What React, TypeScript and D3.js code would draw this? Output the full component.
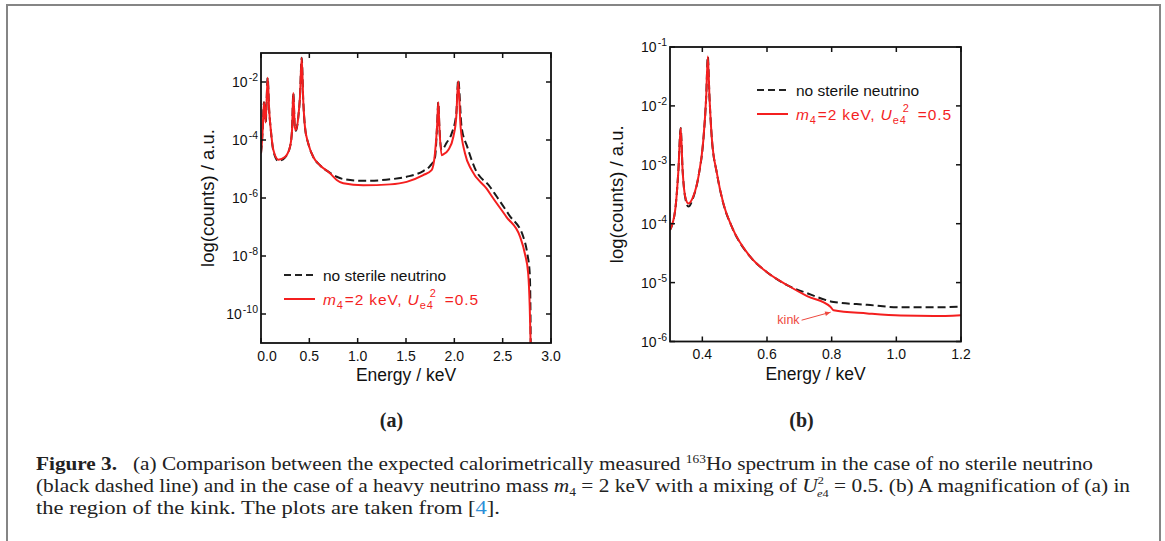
import React from 'react';
import * as d3 from 'd3';

type Pt = [number, number];

// (a) full 163Ho spectrum: [energy keV, counts a.u.]
const aNoSterile: Pt[] = [
  [0.0, 3.5e-5], [0.015, 1.6e-4], [0.031, 2.0e-3], [0.048, 4.0e-4], [0.069, 1.4e-2],
  [0.085, 1.0e-3], [0.1, 2.5e-4], [0.128, 4.2e-5], [0.179, 1.9e-5], [0.248, 2.5e-5],
  [0.3, 5.8e-5], [0.321, 2.2e-4], [0.334, 4.2e-3], [0.35, 2.8e-4], [0.362, 2.1e-4],
  [0.386, 6.3e-4], [0.403, 3.0e-3], [0.421, 6.9e-2], [0.437, 2.3e-3], [0.455, 2.8e-4],
  [0.489, 7.6e-5], [0.541, 2.6e-5], [0.61, 1.35e-5], [0.714, 7.4e-6], [0.783, 5.4e-6],
  [0.851, 4.5e-6], [1.058, 3.9e-6], [1.334, 4.4e-6], [1.507, 5.4e-6], [1.678, 8.5e-6],
  [1.748, 1.26e-5], [1.8, 2.5e-5], [1.822, 3.2e-4], [1.834, 2.0e-3], [1.846, 2.5e-4],
  [1.868, 4.5e-5], [1.92, 8.0e-5], [1.972, 1.66e-4], [2.02, 8.0e-4], [2.04, 1.2e-2],
  [2.075, 2.8e-4], [2.134, 5.8e-5], [2.213, 1.05e-5], [2.368, 2.45e-6], [2.44, 1.1e-6],
  [2.57, 2.5e-7], [2.713, 4.6e-8], [2.755, 1.2e-8], [2.78, 2.5e-9], [2.787, 1.8e-10],
  [2.79, 1e-11],
];

const aSterile: Pt[] = [
  [0.0, 3.5e-5], [0.015, 1.6e-4], [0.031, 2.0e-3], [0.048, 4.0e-4], [0.069, 1.4e-2],
  [0.085, 1.0e-3], [0.1, 2.5e-4], [0.128, 4.5e-5], [0.179, 2.1e-5], [0.248, 2.6e-5],
  [0.3, 5.8e-5], [0.321, 2.2e-4], [0.334, 4.2e-3], [0.35, 2.8e-4], [0.362, 2.2e-4],
  [0.386, 6.3e-4], [0.403, 3.0e-3], [0.421, 6.9e-2], [0.437, 2.3e-3], [0.455, 2.8e-4],
  [0.489, 7.6e-5], [0.541, 2.6e-5], [0.61, 1.35e-5], [0.714, 7.1e-6], [0.783, 4.2e-6],
  [0.851, 3.2e-6], [1.058, 2.75e-6], [1.334, 2.95e-6], [1.507, 3.6e-6], [1.678, 6.2e-6],
  [1.765, 9.1e-6], [1.8, 3.5e-5], [1.822, 3.2e-4], [1.834, 2.0e-3], [1.846, 2.5e-4],
  [1.868, 3.0e-5], [1.886, 3.2e-5], [1.937, 4.5e-5], [1.99, 1.3e-4], [2.02, 6.3e-4],
  [2.04, 1.07e-2], [2.065, 2.8e-4], [2.11, 3.5e-5], [2.179, 9.1e-6], [2.334, 2.1e-6],
  [2.4, 1.0e-6], [2.54, 2.2e-7], [2.68, 4.6e-8], [2.73, 1.2e-8], [2.764, 2.5e-9],
  [2.78, 1.8e-10], [2.789, 1e-11],
];

// (b) magnification around the N lines and the kink
const bNoSterile: Pt[] = [
  [0.3, 7.8e-5], [0.316, 1.7e-4], [0.326, 8.1e-4], [0.333, 4.2e-3], [0.339, 8.1e-4],
  [0.347, 2.8e-4], [0.357, 1.95e-4], [0.372, 2.8e-4], [0.388, 6.3e-4], [0.403, 2.6e-3],
  [0.412, 1.45e-2], [0.417, 6.9e-2], [0.422, 1.45e-2], [0.429, 3.0e-3], [0.445, 7.2e-4],
  [0.465, 2.2e-4], [0.491, 8.9e-5], [0.548, 2.75e-5], [0.6, 1.5e-5], [0.662, 9.1e-6],
  [0.724, 6.6e-6], [0.806, 4.7e-6], [0.91, 4.2e-6], [1.013, 3.8e-6], [1.116, 3.8e-6],
  [1.2, 3.9e-6],
];

const bSterile: Pt[] = [
  [0.3, 7.8e-5], [0.316, 1.7e-4], [0.326, 8.1e-4], [0.333, 4.2e-3], [0.339, 8.1e-4],
  [0.347, 2.9e-4], [0.357, 2.2e-4], [0.372, 2.9e-4], [0.388, 6.3e-4], [0.403, 2.6e-3],
  [0.412, 1.45e-2], [0.417, 6.9e-2], [0.422, 1.45e-2], [0.429, 3.0e-3], [0.445, 7.2e-4],
  [0.465, 2.2e-4], [0.491, 8.9e-5], [0.548, 2.75e-5], [0.6, 1.5e-5], [0.662, 9.1e-6],
  [0.724, 5.9e-6], [0.796, 3.9e-6], [0.806, 3.4e-6], [0.91, 3.0e-6], [1.013, 2.75e-6],
  [1.116, 2.7e-6], [1.2, 2.8e-6],
];

const kinkPoint: Pt = [0.806, 3.4e-6];

const aXTicks = [0, 0.5, 1.0, 1.5, 2.0, 2.5, 3.0];
const aYExps = [-2, -4, -6, -8, -10];
const bXTicks = [0.4, 0.6, 0.8, 1.0, 1.2];
const bYExps = [-1, -2, -3, -4, -5, -6];

const RED = '#f41f1f';
const SANS = '"Liberation Sans", Arial, Helvetica, sans-serif';
const SERIF = '"Liberation Serif", "Times New Roman", serif';

type Frame = { left: number; right: number; top: number; bottom: number };

const Legend = ({ x, y }: { x: number; y: number }) => (
  <g fontFamily={SANS} fontSize={15.5}>
    <line x1={x} x2={x + 31} y1={y} y2={y} stroke="#222" strokeWidth={2} strokeDasharray="7,4" />
    <text x={x + 39} y={y + 5.5} fill="#111">no sterile neutrino</text>
    <line x1={x} x2={x + 31} y1={y + 24} y2={y + 24} stroke={RED} strokeWidth={2} />
    <text x={x + 39} y={y + 29.5} fill={RED} textLength={155} lengthAdjust="spacing">
      <tspan fontStyle="italic">m</tspan>
      <tspan fontSize={11} dy={4}>4</tspan>
      <tspan dy={-4} dx={1}>=2 keV, </tspan>
      <tspan fontStyle="italic">U</tspan>
      <tspan fontSize={11} dy={4}>e4</tspan>
      <tspan fontSize={11} dy={-12} dx={-4}>2</tspan>
      <tspan dy={8} dx={3}> =0.5</tspan>
    </text>
  </g>
);

const Panel = ({ frame, xDomain, yDomain, black, red, xTicks, yExps, xFmt, firstDx, children }: any) => {
  const x = d3.scaleLinear().domain(xDomain).range([frame.left, frame.right]);
  const y = d3.scaleLog().domain(yDomain).range([frame.bottom, frame.top]);
  const line = d3.line<Pt>().x(d => x(d[0])).y(d => y(d[1])).curve(d3.curveMonotoneX);
  const id = `clip-${frame.left}`;
  const tk = 5;
  return (
    <g>
      <defs>
        <clipPath id={id}>
          <rect x={frame.left} y={frame.top} width={frame.right - frame.left} height={frame.bottom - frame.top + 2} />
        </clipPath>
      </defs>
      <g clipPath={`url(#${id})`}>
        <path d={line(black) || ''} fill="none" stroke="#1a1a1a" strokeWidth={2} strokeDasharray="8,4" />
        <path d={line(red) || ''} fill="none" stroke={RED} strokeWidth={2} />
      </g>
      {/* ticks point inward on all four sides */}
      {xTicks.map((t: number) => (
        <g key={`x${t}`}>
          <line x1={x(t)} x2={x(t)} y1={frame.bottom} y2={frame.bottom - tk} stroke="#111" strokeWidth={1.5} />
          <line x1={x(t)} x2={x(t)} y1={frame.top} y2={frame.top + tk} stroke="#111" strokeWidth={1.5} />
          <text x={x(t)} dx={t === xDomain[0] ? firstDx : 0} y={frame.bottom + 17.5} textAnchor="middle"
            fontFamily={SANS} fontSize={14} fill="#111">{d3.format(xFmt)(t)}</text>
        </g>
      ))}
      {yExps.map((e: number) => {
        const py = y(Math.pow(10, e));
        return (
          <g key={`y${e}`}>
            <line x1={frame.left} x2={frame.left + tk} y1={py} y2={py} stroke="#111" strokeWidth={1.5} />
            <line x1={frame.right} x2={frame.right - tk} y1={py} y2={py} stroke="#111" strokeWidth={1.5} />
            <text x={frame.left - 3} y={py + 5} textAnchor="end" fontFamily={SANS} fontSize={14} fill="#111">
              10<tspan fontSize={10.5} dy={-6} dx={1}>{`-${-e}`}</tspan>
            </text>
          </g>
        );
      })}
      <rect x={frame.left} y={frame.top} width={frame.right - frame.left} height={frame.bottom - frame.top}
        fill="none" stroke="#111" strokeWidth={1.8} />
      <text x={(frame.left + frame.right) / 2} y={frame.bottom + 38} textAnchor="middle"
        fontFamily={SANS} fontSize={17.5} fill="#111">Energy / keV</text>
      <text transform={`translate(${frame.left - 47},${(frame.top + frame.bottom) / 2}) rotate(-90)`}
        textAnchor="middle" fontFamily={SANS} fontSize={18.5} fill="#111">log(counts) / a.u.</text>
      {children && children(x, y)}
    </g>
  );
};

const aFrame: Frame = { left: 261, right: 551, top: 53, bottom: 343 };
const bFrame: Frame = { left: 670, right: 961, top: 47, bottom: 341.5 };

export default function App() {
  return (
    <svg width={1165} height={541} style={{ position: 'absolute', left: 0, top: 0, background: '#fff' }}>
      <rect x={0} y={0} width={1165} height={541} fill="#fff" />
      <rect x={7} y={5} width={1153} height={560} fill="none" stroke="#858585" strokeWidth={2} />

      <Panel frame={aFrame} xDomain={[0, 3]} yDomain={[1e-11, 1e-1]} black={aNoSterile} red={aSterile}
        xTicks={aXTicks} yExps={aYExps} xFmt=".1f" firstDx={6} />
      <Legend x={284} y={275} />

      <Panel frame={bFrame} xDomain={[0.3, 1.2]} yDomain={[1e-6, 1e-1]} black={bNoSterile} red={bSterile}
        xTicks={bXTicks} yExps={bYExps} xFmt=".1f" firstDx={0}>
        {(x: any, y: any) => {
          const kx = x(kinkPoint[0]) - 3;
          const ky = y(kinkPoint[1]) + 2;
          const sx = kx - 29;
          const sy = ky + 8;
          const ang = Math.atan2(ky - sy, kx - sx);
          const h = 6;
          const p1 = [kx - h * Math.cos(ang - 0.4), ky - h * Math.sin(ang - 0.4)];
          const p2 = [kx - h * Math.cos(ang + 0.4), ky - h * Math.sin(ang + 0.4)];
          return (
            <g>
              <line x1={sx} y1={sy} x2={kx} y2={ky} stroke="#ee4a40" strokeWidth={1} />
              <path d={`M${kx},${ky}L${p1[0]},${p1[1]}L${p2[0]},${p2[1]}Z`} fill="#ee4a40" />
              <text x={sx - 2} y={sy + 4} textAnchor="end" fontFamily={SANS} fontSize={12.5} fill="#ee4a40">kink</text>
            </g>
          );
        }}
      </Panel>
      <Legend x={757} y={90} />

      <text x={391.5} y={427} textAnchor="middle" fontFamily={SERIF} fontWeight="bold" fontSize={20} fill="#222">(a)</text>
      <text x={801.5} y={427} textAnchor="middle" fontFamily={SERIF} fontWeight="bold" fontSize={20} fill="#222">(b)</text>

      <g fontFamily={SERIF} fontSize={19} fill="#222">
        <text x={36} y={470} textLength={1057} lengthAdjust="spacingAndGlyphs">
          <tspan fontWeight="bold">Figure 3.</tspan>
          <tspan>{'\u2002 (a) Comparison between the expected calorimetrically measured '}</tspan>
          <tspan fontSize={12} dy={-7}>163</tspan>
          <tspan dy={7}>Ho spectrum in the case of no sterile neutrino</tspan>
        </text>
        <text x={36} y={492} textLength={1094} lengthAdjust="spacingAndGlyphs">
          <tspan>(black dashed line) and in the case of a heavy neutrino mass </tspan>
          <tspan fontStyle="italic">m</tspan>
          <tspan fontSize={12} dy={4}>4</tspan>
          <tspan dy={-4}>{' = 2 keV with a mixing of '}</tspan>
          <tspan fontStyle="italic">U</tspan>
          <tspan fontSize={11} dy={-8}>2</tspan>
          <tspan fontSize={11} fontStyle="italic" dx={-6} dy={13}>e</tspan>
          <tspan fontSize={11} dy={0}>4</tspan>
          <tspan dy={-5}>{' = 0.5. (b) A magnification of (a) in'}</tspan>
        </text>
        <text x={36} y={514} textLength={464} lengthAdjust="spacingAndGlyphs">
          <tspan>the region of the kink. The plots are taken from [</tspan>
          <tspan fill="#2b8fd8">4</tspan>
          <tspan>].</tspan>
        </text>
      </g>
    </svg>
  );
}
